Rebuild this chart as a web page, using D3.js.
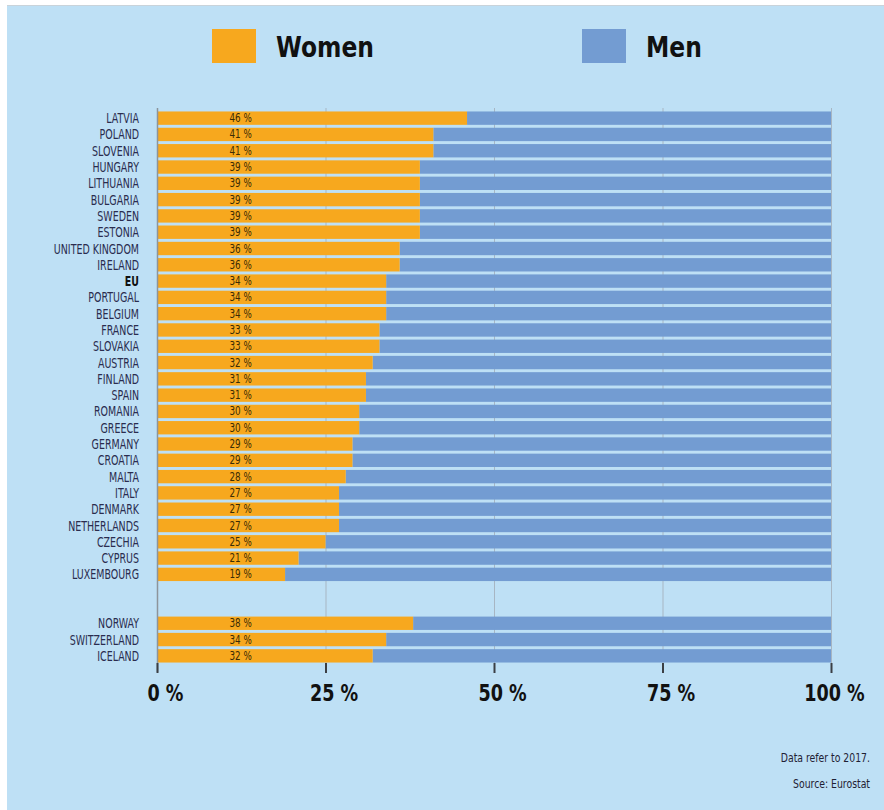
<!DOCTYPE html>
<html><head><meta charset="utf-8">
<script src="https://cdn.jsdelivr.net/npm/d3@7"></script>
<style>
html,body{margin:0;padding:0;background:#fff;}
svg{display:block;}
text{font-family:"Liberation Sans Narrow","DejaVu Sans Condensed","Arial Narrow","DejaVu Sans",sans-serif;}
</style></head>
<body>
<script>
const countries = ["LATVIA","POLAND","SLOVENIA","HUNGARY","LITHUANIA","BULGARIA","SWEDEN","ESTONIA","UNITED KINGDOM","IRELAND","EU","PORTUGAL","BELGIUM","FRANCE","SLOVAKIA","AUSTRIA","FINLAND","SPAIN","ROMANIA","GREECE","GERMANY","CROATIA","MALTA","ITALY","DENMARK","NETHERLANDS","CZECHIA","CYPRUS","LUXEMBOURG"];
const womenEU = [46,41,41,39,39,39,39,39,36,36,34,34,34,33,33,32,31,31,30,30,29,29,28,27,27,27,25,21,19];
const others = ["NORWAY","SWITZERLAND","ICELAND"];
const womenOthers = [38,34,32];
const gapKeys = ["_gap1","_gap2"];
const tickValues = [0,25,50,75,100];
const tickLabels = ["0 %","25 %","50 %","75 %","100 %"];
const seriesNames = ["Women","Men"];
const colors = {Women:"#f7a81e", Men:"#739cd2"};

const W = 884, H = 810;
const svg = d3.select("body").append("svg").attr("width", W).attr("height", H);

// helper: condensed text via horizontal scaling
function ctext(sel, tx, ty, s){
  return sel.attr("transform", (d,i)=>`translate(${typeof tx==="function"?tx(d,i):tx},${typeof ty==="function"?ty(d,i):ty}) scale(${s},1)`);
}

// background
svg.append("rect").attr("x",0).attr("y",0).attr("width",W).attr("height",H).attr("fill","#ffffff");
svg.append("rect").attr("x",7).attr("y",5).attr("width",W-7).attr("height",H-5).attr("fill","#bee0f5");
svg.append("line").attr("x1",7).attr("x2",W).attr("y1",5.5).attr("y2",5.5).attr("stroke","#c9d3da").attr("stroke-width",1);

const rows = countries.map((c,i)=>({name:c, women:womenEU[i]}))
  .concat(others.map((c,i)=>({name:c, women:womenOthers[i]})));
const domain = countries.concat(gapKeys, others);

const x = d3.scaleLinear().domain([0,100]).range([157,831]);
const y = d3.scaleBand().domain(domain).range([110,664]).paddingInner(0.18).paddingOuter(0.09);

// gridlines
const g = svg.append("g");
g.selectAll("line.grid").data(tickValues.slice(1)).enter().append("line")
  .attr("x1",d=>x(d)+0.5).attr("x2",d=>x(d)+0.5)
  .attr("y1",108).attr("y2",663)
  .attr("stroke","#a7b6c3").attr("stroke-width",1);

// bars
const bars = svg.append("g");
bars.selectAll("rect.men").data(rows).enter().append("rect")
  .attr("x",d=>x(d.women)).attr("width",d=>x(100)-x(d.women))
  .attr("y",d=>y(d.name)).attr("height",y.bandwidth())
  .attr("fill",colors.Men);
bars.selectAll("rect.women").data(rows).enter().append("rect")
  .attr("x",x(0)).attr("width",d=>x(d.women)-x(0))
  .attr("y",d=>y(d.name)).attr("height",y.bandwidth())
  .attr("fill",colors.Women);

// value labels
ctext(bars.selectAll("text.val").data(rows).enter().append("text"),
  x(12.4), d=>y(d.name)+y.bandwidth()/2+4, 0.85)
  .attr("text-anchor","middle").attr("font-size",11.5).attr("fill","#3a2c05")
  .text(d=>d.women+" %");

// country labels
ctext(svg.append("g").selectAll("text").data(rows).enter().append("text"),
  139, d=>y(d.name)+y.bandwidth()/2+5, 0.78)
  .attr("text-anchor","end").attr("font-size",13.5)
  .attr("font-weight",d=>d.name==="EU"?"bold":"normal")
  .attr("fill",d=>d.name==="EU"?"#111":"#2a2c4e")
  .text(d=>d.name);

// axis line
svg.append("line").attr("x1",x(0)+0.5).attr("x2",x(0)+0.5).attr("y1",108).attr("y2",672)
  .attr("stroke","#8d949b").attr("stroke-width",1.5);

// bottom axis
const axis = d3.axisBottom(x).tickValues(tickValues).tickSize(10).tickFormat((d,i)=>tickLabels[i]);
const ax = svg.append("g").attr("transform","translate(0,663)").call(axis);
ax.select(".domain").remove();
ax.selectAll(".tick line").attr("stroke","#3b3f44").attr("stroke-width",2);
ax.selectAll(".tick text").attr("font-size",23).attr("font-weight","bold").attr("fill","#111")
  .attr("dy",0).attr("y",0).attr("x",0)
  .attr("transform",(d)=>`translate(${d===100?3:8},38) scale(0.85,1)`);

// legend
const leg = svg.append("g");
const legX = [212, 582];
seriesNames.forEach((s,i)=>{
  leg.append("rect").attr("x",legX[i]).attr("y",29).attr("width",44).attr("height",34).attr("fill",colors[s]);
  leg.append("text").attr("transform",`translate(${legX[i]+64},57) scale(0.93,1)`)
    .attr("font-size",28).attr("font-weight","bold").attr("fill","#111").text(s);
});

// footnotes
svg.append("text").attr("transform","translate(870,762) scale(0.9,1)").attr("text-anchor","end").attr("font-size",11.5).attr("fill","#1e2033").text("Data refer to 2017.");
svg.append("text").attr("transform","translate(870,788) scale(0.9,1)").attr("text-anchor","end").attr("font-size",11.5).attr("fill","#1e2033").text("Source: Eurostat");
</script>
</body></html>
